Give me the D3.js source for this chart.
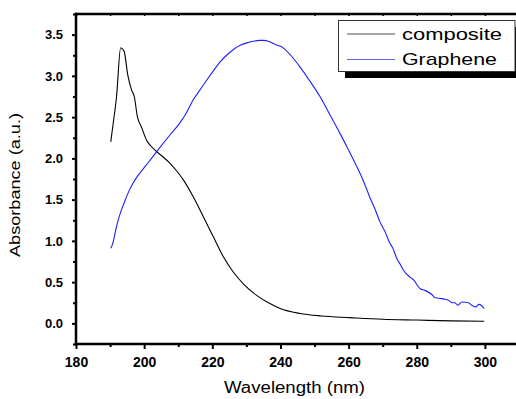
<!DOCTYPE html>
<html>
<head>
<meta charset="utf-8">
<script src="https://cdn.jsdelivr.net/npm/d3@7"></script>
<style>
  html, body { margin: 0; padding: 0; background: #fff; }
  svg { display: block; }
  text { font-family: Arial, "Liberation Sans", sans-serif; }
</style>
</head>
<body>
<svg id="chart" width="516" height="399"></svg>
<script>
// ---- data ----
const compositeWL = [190.2, 191.0, 191.9, 193.1, 194.1, 195.2, 196.3, 197.1, 198.0, 199.3, 200.7, 202.0, 203.7, 205.5, 207.6, 209.5, 211.5, 214.4, 217.4, 220.3, 223.2, 226.2, 229.1, 233.0, 236.9, 239.9, 245.7, 252.0, 260.4, 270.0, 280.0, 290.0, 299.8];
const compositeAbs = [2.20, 2.45, 2.75, 3.34, 3.30, 3.01, 2.83, 2.75, 2.51, 2.37, 2.22, 2.15, 2.08, 2.02, 1.94, 1.85, 1.74, 1.535, 1.29, 1.05, 0.81, 0.62, 0.48, 0.34, 0.24, 0.18, 0.12, 0.09, 0.07, 0.05, 0.04, 0.03, 0.025];

const grapheneWL = [190.2, 190.8, 191.4, 192.1, 193.2, 194.4, 195.5, 196.6, 197.8, 199.5, 201.2, 202.9, 204.6, 207.5, 210.5, 212.5, 214.4, 216.4, 218.4, 220.3, 222.3, 224.2, 226.2, 228.2, 230.1, 232.0, 234.0, 235.0, 236.5, 238.5, 240.8, 243.0, 245.7, 248.6, 251.6, 254.5, 257.5, 260.0, 262.4, 264.4, 266.3, 268.0, 269.2, 270.7, 271.9, 273.1, 274.1, 275.1, 276.0, 278.0, 279.0, 281.0, 282.4, 284.4, 285.4, 287.3, 289.3, 290.3, 291.2, 292.0, 293.2, 295.2, 296.1, 297.3, 298.3, 299.8];
const grapheneAbs = [0.91, 0.97, 1.08, 1.21, 1.36, 1.49, 1.60, 1.69, 1.77, 1.86, 1.95, 2.04, 2.13, 2.28, 2.43, 2.56, 2.71, 2.83, 2.95, 3.06, 3.17, 3.25, 3.32, 3.37, 3.40, 3.42, 3.43, 3.43, 3.42, 3.38, 3.34, 3.25, 3.11, 2.94, 2.75, 2.53, 2.30, 2.10, 1.90, 1.72, 1.52, 1.36, 1.23, 1.11, 0.99, 0.90, 0.79, 0.72, 0.65, 0.56, 0.53, 0.42, 0.40, 0.35, 0.31, 0.30, 0.28, 0.25, 0.25, 0.22, 0.26, 0.25, 0.22, 0.20, 0.23, 0.18];

const seriesNames = ["composite", "Graphene"];
const seriesColors = ["#000000", "#1f1fff"];

const xMajorTicks = [180, 200, 220, 240, 260, 280, 300];
const xMinorTicks = [190, 210, 230, 250, 270, 290, 310];
const yMajorTicks = [0.0, 0.5, 1.0, 1.5, 2.0, 2.5, 3.0, 3.5];
const yMinorTicks = [-0.25, 0.25, 0.75, 1.25, 1.75, 2.25, 2.75, 3.25, 3.75];

const xTitle = "Wavelength (nm)";
const yTitle = "Absorbance (a.u.)";

// ---- layout ----
const svg = d3.select("#chart");
const x = d3.scaleLinear().domain([180, 310]).range([76, 519]);
const y = d3.scaleLinear().domain([-0.25, 3.75]).range([344, 14]);

const axisColor = "#000";

// curves
const series = [
  { name: seriesNames[0], color: seriesColors[0], pts: compositeWL.map((w, i) => [w, compositeAbs[i]]) },
  { name: seriesNames[1], color: seriesColors[1], pts: grapheneWL.map((w, i) => [w, grapheneAbs[i]]) }
];
const line = d3.line().x(d => x(d[0])).y(d => y(d[1])).curve(d3.curveMonotoneX);
series.forEach(s => {
  svg.append("path")
    .attr("d", line(s.pts))
    .attr("fill", "none")
    .attr("stroke", s.color)
    .attr("stroke-width", 1.1);
});

// bottom axis
const gx = svg.append("g").attr("transform", `translate(0,${y(-0.25)})`);
gx.call(d3.axisBottom(x).tickValues(xMajorTicks).tickSize(5).tickPadding(8).tickFormat(d3.format("d")));
const gxm = svg.append("g").attr("transform", `translate(0,${y(-0.25)})`);
gxm.call(d3.axisBottom(x).tickValues(xMinorTicks).tickSize(3).tickFormat(""));
[gx, gxm].forEach(g => {
  g.select(".domain").remove();
  g.selectAll(".tick line").attr("stroke", axisColor).attr("stroke-width", 2);
});
gx.selectAll(".tick text")
  .attr("font-size", 14).attr("font-weight", "bold").attr("fill", "#000")
  .attr("font-family", "Arial, 'Liberation Sans', sans-serif");

// left axis
const gy = svg.append("g").attr("transform", `translate(${x(180)},0)`);
gy.call(d3.axisLeft(y).tickValues(yMajorTicks).tickSize(4).tickPadding(9).tickFormat(d3.format(".1f")));
const gym = svg.append("g").attr("transform", `translate(${x(180)},0)`);
gym.call(d3.axisLeft(y).tickValues(yMinorTicks).tickSize(3).tickFormat(""));
[gy, gym].forEach(g => {
  g.select(".domain").remove();
  g.selectAll(".tick line").attr("stroke", axisColor).attr("stroke-width", 2);
});
gy.selectAll(".tick text")
  .attr("font-size", 13).attr("font-weight", "bold").attr("fill", "#000")
  .attr("font-family", "Arial, 'Liberation Sans', sans-serif");

// top axis (inner ticks, no labels)
const gt = svg.append("g").attr("transform", `translate(0,${y(3.75)})`);
gt.call(d3.axisBottom(x).tickValues(xMajorTicks.concat(xMinorTicks)).tickSize(2).tickFormat(""));
gt.select(".domain").remove();
gt.selectAll(".tick line").attr("stroke", axisColor).attr("stroke-width", 1.5);

// frame lines
const frame = svg.append("g").attr("stroke", axisColor).attr("stroke-width", 2.5).attr("fill", "none");
frame.append("line").attr("x1", x(180)).attr("x2", x(180)).attr("y1", y(3.75) - 1.2).attr("y2", y(-0.25) + 1.2);
frame.append("line").attr("x1", x(180) - 1.2).attr("x2", x(310)).attr("y1", y(-0.25)).attr("y2", y(-0.25));
frame.append("line").attr("x1", x(180) - 1.2).attr("x2", x(310)).attr("y1", y(3.75)).attr("y2", y(3.75));

// axis titles
svg.append("text")
  .attr("x", 224).attr("y", 393)
  .attr("font-size", 16).attr("fill", "#000")
  .attr("textLength", 141).attr("lengthAdjust", "spacingAndGlyphs")
  .text(xTitle);
svg.append("text")
  .attr("transform", "translate(20,257) rotate(-90)")
  .attr("x", 0).attr("y", 0)
  .attr("font-size", 14).attr("fill", "#000")
  .attr("textLength", 144).attr("lengthAdjust", "spacingAndGlyphs")
  .text(yTitle);

// legend
const lg = svg.append("g");
lg.append("rect").attr("x", 345).attr("y", 27).attr("width", 180).attr("height", 51).attr("fill", "#000");
lg.append("rect").attr("x", 338.5).attr("y", 20.5).attr("width", 176.5).attr("height", 51)
  .attr("fill", "#fff").attr("stroke", "#333").attr("stroke-width", 1);
const legendRows = [
  { name: series[0].name, color: series[0].color, ly: 34, ty: 40, tl: 100 },
  { name: series[1].name, color: series[1].color, ly: 59.5, ty: 65, tl: 95 }
];
legendRows.forEach(r => {
  lg.append("line").attr("x1", 347).attr("x2", 395).attr("y1", r.ly).attr("y2", r.ly)
    .attr("stroke", r.color).attr("stroke-width", 1).attr("stroke-opacity", 0.7);
  lg.append("text").attr("x", 402).attr("y", r.ty)
    .attr("font-size", 17).attr("fill", "#000")
    .attr("textLength", r.tl).attr("lengthAdjust", "spacingAndGlyphs")
    .text(r.name);
});
</script>
</body>
</html>
